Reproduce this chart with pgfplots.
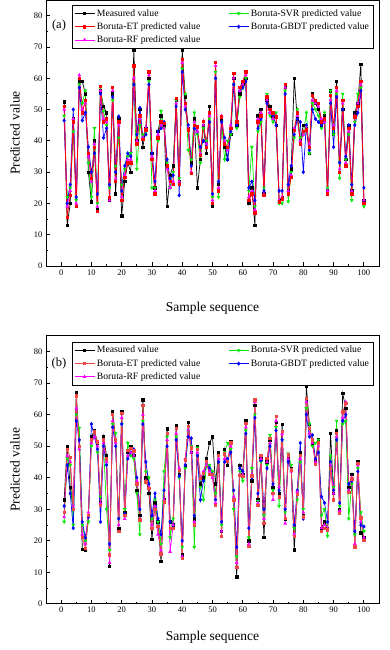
\documentclass[border=0pt]{standalone}
\usepackage{pgfplots}
\usepackage{pgfplotstable}
\usepackage{fontspec}
\setmainfont{Liberation Serif}
\pgfplotsset{compat=1.18}
\definecolor{cRed}{RGB}{255,0,0}
\definecolor{cRedB}{RGB}{240,70,70}
\definecolor{cMag}{RGB}{255,0,255}
\definecolor{cGreen}{RGB}{0,235,0}
\definecolor{cBlue}{RGB}{0,0,255}

\pgfplotstableread{
x meas et rf svr gbdt
1 52.5 51 50 48 46.5
2 13 15.5 19 22 20
3 20 22.6 24 25 26
4 47 46 47 43 50
5 19 19 20 21 22
6 59 60 61 58 57
7 59 49 50 52 46.5
8 55 53 52 56 49
9 30 36 35 33 38
10 20.5 28 27 22 30
11 40 38 39 44 36
12 18 17.5 19 20 23
13 56 57.4 56 57 55
14 51 46 47 49.5 41
15 49 47 46 45 44
16 21 22 21 25 26
17 55 57 56 53 54
18 23 27 28 32 30
19 47 46 45 41 47.8
20 16 21 22 26 24
21 27 28.4 29 31 32
22 33 33 34 35 36
23 30 33 34 36 35
24 69 64 60 58 58
25 40 39 40 31 42
26 50 48 47 45 50.5
27 38 40.5 41 42 41
28 44 43.5 44 43 42
29 60 62 61 59 58
30 36 34 35 25 36
31 25 23 24 25 27
32 43 41 42 40 43
33 48 46 45 49.5 44
34 45 45.5 44 44 46
35 19 32 31 33 34
36 29 27 25 25 28
37 32 26 27 30 29
38 53 53.6 52 53 51
39 27 26 27 28 22.6
40 69 66 65 63 62
41 54 52 51 55 50
42 44 43.5 44 37 45
43 33 29.6 30 34 32
44 47 45 46 49 44
45 25 44.5 43 42 43
46 34 35.4 36 33 38
47 45 46.3 45 44 40
48 36 38 39 40 39
49 51 49 48 47 46
50 19 20 21 22 23
51 65 65 64 62 60
52 26 24 25 22 27
53 47 47.6 48 46 46
54 38 39 40 34 41
55 34 38 37 40 34
56 42 44 45 42 43
57 60 61.5 60 58 58
58 45 46 46 44 45
59 55 57 56 54 56
60 58 59 58 57 57
61 60 62 61 60 59
62 20 21 22 24 25
63 25 23 24 38 27
64 13 17 18 19 21
65 48 46 47 43 44
66 50 48 49 46 47
67 23 22.5 23 25 24
68 53 54 53 55 52
69 51 50 49 48 49
70 48 49 47 46 48
71 45 47.6 48 49 45
72 21 20.5 21 20 24
73 22 21.5 22 20 24
74 57 58 57 56 55
75 24 23 24 20.6 26
76 31 28.4 29 30 32
77 60 43.4 44 41 42
78 47 49 48 50 47
79 40 39 40 41 46
80 45 43 42 42 30
81 44 43.5 44 49 45
82 36 38 39 36 37
83 55 54.5 53 52 50
84 52 53 52 50 47
85 50 52 51 48 46
86 45 46 47 44 45
87 48 47 46 49 46
88 24 23 24 25 24
89 56 54.5 53 56 52
90 42 44 45 42 38
91 59 57 56 55 54
92 30 30 31 28 33
93 50 53 52 55 50
94 34 32 33 34 35
95 45 44 43 42 45
96 24 23 24 21 26
97 49 47.6 48 46 45
98 52 51 52 55 49
99 64.5 59 58 57 56
100 21 20 21 19 25
}\dataA

\pgfplotstableread{
x meas et rf svr gbdt
1 33 29 27.5 26 31
2 50 49 47 46 44
3 37 46.5 45 44 35
4 30 30 31 25 24
5 67 66 62 60 58
6 50 50 49 55.8 52
7 17.3 21 22 25 26
8 17 17.6 19 20 21
9 28 28 29 26 27.5
10 53 52 51 50 57
11 55 54.6 53 54.6 53
12 51 51.4 50 48 49
13 32 31.3 32 34 26
14 53 52 51 50 50
15 47 46 45 30 44
16 11.9 15.5 13 17 19
17 61 60 58 57 56
18 52 52 51 54 50
19 24 23 25 27 27
20 61 60.4 59 57 57
21 29 28 27 30 28.5
22 48 48.6 47 51 46
23 50 49.3 48 47 48
24 47 48.5 47 46 49
25 36 38 39 35 40
26 28 26.6 27 22 30
27 64.7 63 60 58 57
28 40 38.7 39 42 45
29 35 36.7 37 40 38
30 20.5 24 25 27 28
31 32 30 31 33 35
32 26 24.5 22 26 27
33 13.4 15.8 17 19 22
34 33 32.4 33 42 36
35 55.5 54 52 53 50
36 26 24 16.5 21 26
37 25 24 25 27 25
38 56.5 55.7 54 53 52
39 41 42.4 43 40 40.5
40 15.5 14.4 15 18 20
41 44 45.6 46 43 44
42 57.5 56.3 55 55 53
43 48 49.4 48 50 52.5
44 27 25 26 18 28
45 50 48.9 48 49.5 47
46 38 39.8 40 37 33
47 40 41.3 42 33 39
48 46 45.1 44 44 45
49 51 41 42 44 43
50 53 41 40 42 41
51 38 31.3 32 35 33
52 48 47.1 46 47 45
53 23 21.3 23 25 26
54 49 47.5 46 48 45
55 44 45.2 45 51 46
56 51.5 51.1 50 49 48
57 33 33 34 30 36
58 8.5 11.6 13 15 18
59 44 40.8 41 42 43
60 41 40.5 41 39 42
61 58 57.3 56 55 54
62 20 18.3 19 21 24
63 39 40.6 41 43 40
64 63 64.7 64 60 59
65 33 31.3 32 32.5 35
66 46 47.1 46 45 45.5
67 21 25.5 27 28 30
68 45 46.1 45 44 43
69 52 52.5 51 53.5 50
70 37 35 33 36 38
71 57.5 59.4 58 56 55
72 35 33.9 37 31 36
73 57 54.7 54 52 52
74 27 27.1 25.5 29 30
75 46 47.2 46 47.6 45
76 43 42.5 42 44 42.5
77 17.1 21.3 22 24 25
78 35 34.7 35.5 33 36
79 48 47 46 45 51
80 28 27.6 29 30 27
81 69.1 65.2 64 62 60
82 57 55.6 54 57 53
83 51 52 51 50 53.5
84 45 44.3 45 51 46
85 52 51 50 52 48
86 24 22.9 24 28 34
87 26 24 25 30 32
88 24 23.4 24 21.5 26
89 54 42.9 44 47 45
90 35 33 35 37 36
91 55 54 53 58 52
92 30 28.7 29.5 31 32
93 66.8 60.9 59 57 58
94 62 63.5 64 58 60
95 37 35.4 36 27 38
96 41 39.6 40 38 39
97 18 18.1 19 22 23
98 45 44.6 44 43 42
99 22.5 27.3 26 29 25
100 21 20.2 21 23 24.5
}\dataB

\pgfplotsset{
  panel/.style={
    width=333pt, scale only axis,
    xmin=-5, xmax=105, ymin=0, ymax=85,
    xtick={0,10,...,100}, ytick={0,10,...,80},
    minor x tick num=1, minor y tick num=1,
    tick align=inside, xtick pos=bottom, ytick pos=left,
    major tick length=4pt, minor tick length=2pt,
    axis line style={line width=0.9pt},
    every tick/.style={black, line width=0.8pt},
    /pgf/number format/assume math mode=true,
    tick label style={font=\fontsize{8.5}{10}\selectfont},
    label style={font=\fontsize{13.5}{15}\selectfont},
    ylabel={Predicted value},
    ylabel style={at={(axis description cs:-0.093,0.5)}, anchor=center, rotate=0},
    xlabel={Sample sequence},
    legend columns=2,
    legend cell align=left,
    legend image code/.code={\draw[mark repeat=2,mark phase=2,#1] plot coordinates {(0cm,0cm) (0.35cm,0cm) (0.7cm,0cm)};},
    legend style={anchor=north west, draw=black, line width=0.6pt,
      font=\fontsize{9.7}{11.5}\selectfont, inner sep=2pt, row sep=1pt,
      /tikz/every even column/.append style={column sep=26pt}},
  },
  ms/.style={mark size=1.2pt, line width=0.7pt, mark options={solid}},
}

\begin{document}
\begin{tikzpicture}
\path[use as bounding box] (0,0) rectangle (389pt,-650pt);

% Panel (a)
\begin{axis}[panel, height=266pt, at={(46pt,0pt)}, anchor=north west,
  xlabel style={at={(axis description cs:0.5,-0.159)}, anchor=center},
  legend style={at={(axis description cs:0.078,0.981)}}]
\addplot[black, mark=square*, ms, mark size=1.2pt, forget plot] table[x=x,y=meas]{\dataA};
\addplot[cGreen, mark=triangle*, ms, mark size=1.5pt, mark options={rotate=180}, forget plot] table[x=x,y=svr]{\dataA};
\addplot[cBlue, mark=diamond*, ms, mark size=1.6pt, forget plot] table[x=x,y=gbdt]{\dataA};
\addplot[cMag, mark=triangle*, ms, mark size=1.5pt, forget plot] table[x=x,y=rf]{\dataA};
\addplot[cRed, mark=square*, ms, mark size=1.2pt, forget plot] table[x=x,y=et]{\dataA};
\addlegendimage{black, mark=square*, ms, mark size=1.2pt}
\addlegendentry{Measured value}
\addlegendimage{cGreen, mark=triangle*, ms, mark size=1.5pt, mark options={rotate=180}}
\addlegendentry{Boruta-SVR predicted value}
\addlegendimage{cRed, mark=square*, ms, mark size=1.2pt}
\addlegendentry{Boruta-ET predicted value}
\addlegendimage{cBlue, mark=diamond*, ms, mark size=1.6pt}
\addlegendentry{Boruta-GBDT predicted value}
\addlegendimage{cMag, mark=triangle*, ms, mark size=1.5pt}
\addlegendentry{Boruta-RF predicted value}
\node[font=\fontsize{12.5}{14}\selectfont] at (axis description cs:0.039,0.906) {(a)};
\end{axis}

% Panel (b)
\begin{axis}[panel, height=268pt, at={(46pt,-335.8pt)}, anchor=north west,
  xlabel style={at={(axis description cs:0.5,-0.124)}, anchor=center},
  legend style={at={(axis description cs:0.078,0.977)}}]
\addplot[black, mark=square*, ms, mark size=1.2pt, forget plot] table[x=x,y=meas]{\dataB};
\addplot[cGreen, mark=triangle*, ms, mark size=1.5pt, mark options={rotate=180}, forget plot] table[x=x,y=svr]{\dataB};
\addplot[cBlue, mark=diamond*, ms, mark size=1.6pt, forget plot] table[x=x,y=gbdt]{\dataB};
\addplot[cMag, mark=triangle*, ms, mark size=1.5pt, forget plot] table[x=x,y=rf]{\dataB};
\addplot[cRedB, mark=square*, ms, mark size=1.2pt, forget plot] table[x=x,y=et]{\dataB};
\addlegendimage{black, mark=square*, ms, mark size=1.2pt}
\addlegendentry{Measured value}
\addlegendimage{cGreen, mark=triangle*, ms, mark size=1.5pt, mark options={rotate=180}}
\addlegendentry{Boruta-SVR predicted value}
\addlegendimage{cRedB, mark=square*, ms, mark size=1.2pt}
\addlegendentry{Boruta-ET predicted value}
\addlegendimage{cBlue, mark=diamond*, ms, mark size=1.6pt}
\addlegendentry{Boruta-GBDT predicted value}
\addlegendimage{cMag, mark=triangle*, ms, mark size=1.5pt}
\addlegendentry{Boruta-RF predicted value}
\node[font=\fontsize{12.5}{14}\selectfont] at (axis description cs:0.039,0.897) {(b)};
\end{axis}
\end{tikzpicture}
\end{document}
